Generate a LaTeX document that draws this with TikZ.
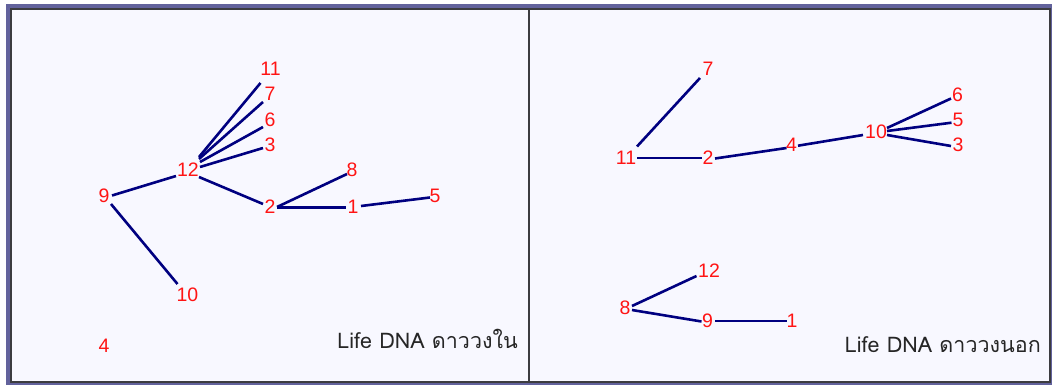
\documentclass[tikz,border=0pt]{standalone}
\usepackage{fontspec}
\setmainfont{Liberation Sans}
\newfontfamily\thaifont[Script=Thai]{Loma}
\definecolor{framebl}{RGB}{98,98,156}
\definecolor{panelbg}{RGB}{248,248,255}
\definecolor{darkline}{RGB}{60,60,64}
\definecolor{numred}{RGB}{255,20,20}
\definecolor{navyline}{RGB}{0,0,128}
\begin{document}
\begin{tikzpicture}[x=1pt,y=-1pt,
  num/.style={text=numred,font=\fontsize{19.5}{19.5}\selectfont,inner sep=0pt},
  edge/.style={draw=navyline,line width=2.6pt},
  lbl/.style={text=black!85,font=\thaifont\fontsize{21.5}{21.5}\selectfont,inner sep=0pt}]
\useasboundingbox (0,0) rectangle (1052,385);
\fill[white] (0,0) rectangle (1052,385);
\fill[framebl] (6,4) rectangle (1052,385);
\fill[panelbg] (10,8) rectangle (1050,383);
\draw[darkline,line width=2pt] (11,9) rectangle (1049.5,381.5);
\draw[darkline,line width=2pt] (529,9) -- (529,381.5);
% left panel
\node[num] (a11) at (270.5,69) {11};
\node[num] (a7) at (270,94) {7};
\node[num] (a6) at (270,120) {6};
\node[num] (a3) at (270,145) {3};
\node[num] (a12) at (188,170) {12};
\node[num] (a9) at (104,195.5) {9};
\node[num] (a8) at (352,170) {8};
\node[num] (a2) at (270,207) {2};
\node[num] (a1) at (353,207) {1};
\node[num] (a5) at (435,195.5) {5};
\node[num] (a10) at (187.5,294.5) {10};
\node[num] (a4) at (104,345.5) {4};
\node[lbl,anchor=base east] (capL) at (518,348) {Life DNA ดาววงใน};
\draw[edge] ([shift={(11,-13)}]a12.center) -- ([shift={(-10,14)}]a11.center);
\draw[edge] ([shift={(11,-11)}]a12.center) -- ([shift={(-7,8)}]a7.center);
\draw[edge] ([shift={(12,-8)}]a12.center) -- ([shift={(-7,7)}]a6.center);
\draw[edge] ([shift={(12,-3)}]a12.center) -- ([shift={(-7,3)}]a3.center);
\draw[edge] ([shift={(8,0)}]a9.center) -- ([shift={(-12,6)}]a12.center);
\draw[edge] ([shift={(11,7)}]a12.center) -- ([shift={(-7,-3)}]a2.center);
\draw[edge] ([shift={(7,0)}]a2.center) -- ([shift={(-5,4)}]a8.center);
\draw[edge] ([shift={(7,0.5)}]a2.center) -- ([shift={(-7,0.5)}]a1.center);
\draw[edge] ([shift={(8,-1)}]a1.center) -- ([shift={(-5,2)}]a5.center);
\draw[edge] ([shift={(7,8.5)}]a9.center) -- ([shift={(-10,-10.5)}]a10.center);
% right panel
\node[num] (b7) at (708,69) {7};
\node[num] (b11) at (626,157.5) {11};
\node[num] (b2) at (708,157.5) {2};
\node[num] (b4) at (791.5,145) {4};
\node[num] (b10) at (876,132) {10};
\node[num] (b6) at (957.5,94.5) {6};
\node[num] (b5) at (958,120) {5};
\node[num] (b3) at (958,145) {3};
\node[num] (b12) at (709,270.5) {12};
\node[num] (b8) at (625,307.5) {8};
\node[num] (b9) at (707.5,320.5) {9};
\node[num] (b1) at (792,320.5) {1};
\node[lbl,anchor=base east] (capR) at (1041,352) {Life DNA ดาววงนอก};
\draw[edge] ([shift={(11,-11)}]b11.center) -- ([shift={(-8,9)}]b7.center);
\draw[edge] ([shift={(11,0.5)}]b11.center) -- ([shift={(-6.5,0.5)}]b2.center);
\draw[edge] ([shift={(7,1)}]b2.center) -- ([shift={(-5,3)}]b4.center);
\draw[edge] ([shift={(6.5,0.7)}]b4.center) -- ([shift={(-13,3)}]b10.center);
\draw[edge] ([shift={(11,-4)}]b10.center) -- ([shift={(-6.5,4)}]b6.center);
\draw[edge] ([shift={(11,-1)}]b10.center) -- ([shift={(-6.5,2.7)}]b5.center);
\draw[edge] ([shift={(11,3)}]b10.center) -- ([shift={(-7,1)}]b3.center);
\draw[edge] ([shift={(7,-1.5)}]b8.center) -- ([shift={(-12.5,5.5)}]b12.center);
\draw[edge] ([shift={(7,2.5)}]b8.center) -- ([shift={(-6,1)}]b9.center);
\draw[edge] ([shift={(7.5,0.5)}]b9.center) -- ([shift={(-5.5,0.5)}]b1.center);
\end{tikzpicture}
\end{document}
